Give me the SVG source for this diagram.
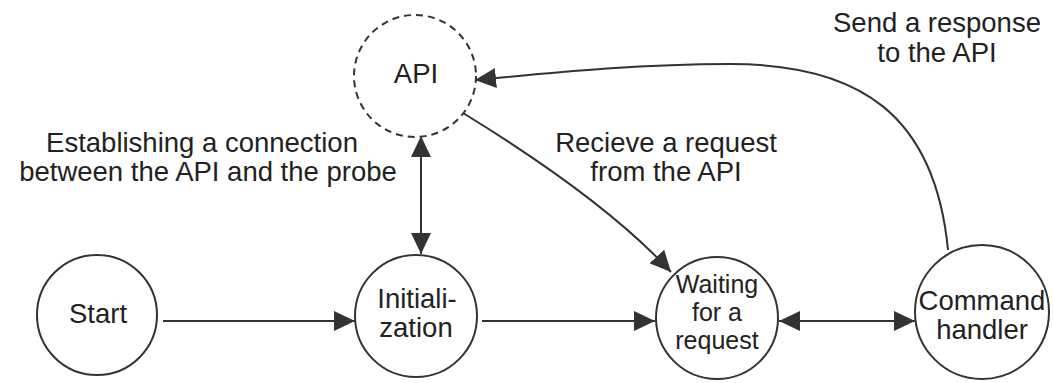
<svg xmlns="http://www.w3.org/2000/svg" width="1053" height="383" viewBox="0 0 1053 383">
  <style>
    .node { fill: #ffffff; stroke: #333333; stroke-width: 2; }
    .dashed { stroke-dasharray: 7 5; }
    .edge { fill: none; stroke: #333333; stroke-width: 2; }
    text { font-family: "Liberation Sans", Arial, sans-serif; font-size: 27.5px; fill: #222222; text-anchor: middle; }
    .tight { font-size: 25px; }
  </style>
  <defs>
    <marker id="arrow" markerUnits="userSpaceOnUse" markerWidth="22" markerHeight="20" refX="21" refY="10" orient="auto-start-reverse" viewBox="0 0 22 20">
      <path d="M0,0 L21,10 L0,20 Z" fill="#333333"/>
    </marker>
  </defs>
  <rect width="1053" height="383" fill="#ffffff"/>

  <g id="connectors">
    <path class="edge" d="M163,321 L355,321" marker-end="url(#arrow)"/>
    <path class="edge" d="M482,321 L655,321" marker-end="url(#arrow)"/>
    <path class="edge" d="M779,321 L915,321" marker-start="url(#arrow)" marker-end="url(#arrow)"/>
    <path class="edge" d="M421,136 L421,254" marker-start="url(#arrow)" marker-end="url(#arrow)"/>
    <path class="edge" d="M463,113 Q605,200 671,272" marker-end="url(#arrow)"/>
    <path class="edge" d="M948,250 C935,115 860,64 730,64 C640,64 560,72 475,80" marker-end="url(#arrow)"/>
  </g>

  <g id="api">
    <circle class="node dashed" cx="415" cy="76" r="61"/>
    <text x="416" y="83">API</text>
  </g>
  <g id="start">
    <circle class="node" cx="97" cy="315" r="60"/>
    <text x="98" y="323">Start</text>
  </g>
  <g id="initialization">
    <circle class="node" cx="416" cy="316" r="61"/>
    <text x="417" y="308">Initiali-</text>
    <text x="416" y="337">zation</text>
  </g>
  <g id="waiting">
    <circle class="node" cx="717" cy="318" r="61"/>
    <text class="tight" x="717" y="293">Waiting</text>
    <text class="tight" x="717" y="321">for a</text>
    <text class="tight" x="717" y="349">request</text>
  </g>
  <g id="command-handler">
    <circle class="node" cx="982" cy="312" r="67"/>
    <text x="982" y="310">Command</text>
    <text x="982" y="339">handler</text>
  </g>

  <g id="labels">
    <text x="202" y="152">Establishing a connection</text>
    <text x="208" y="181">between the API and the probe</text>
    <text x="666" y="152">Recieve a request</text>
    <text x="666" y="181">from the API</text>
    <text x="937" y="32">Send a response</text>
    <text x="937" y="62">to the API</text>
  </g>
</svg>
